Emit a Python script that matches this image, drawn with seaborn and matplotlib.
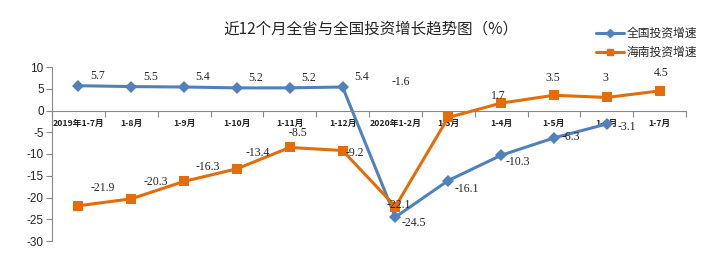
import matplotlib
matplotlib.use("Agg")
import matplotlib.pyplot as plt
import seaborn as sns
import numpy as np
import pandas as pd
from matplotlib.lines import Line2D

categories = ["2019年1-7月", "1-8月", "1-9月", "1-10月", "1-11月", "1-12月",
              "2020年1-2月", "1-3月", "1-4月", "1-5月", "1-6月", "1-7月"]
national = [5.7, 5.5, 5.4, 5.2, 5.2, 5.4, -24.5, -16.1, -10.3, -6.3, -3.1, None]
hainan = [-21.9, -20.3, -16.3, -13.4, -8.5, -9.2, -22.1, -1.6, 1.7, 3.5, 3, 4.5]
series_names = ["全国投资增速", "海南投资增速"]
title = "近12个月全省与全国投资增长趋势图（%）"
y_ticks = [10, 5, 0, -5, -10, -15, -20, -25, -30]

# label offsets in pixels (dx, dy) for manual-like Excel label placement
nat_off = [(19, 10)] * 6 + [(18, -6), (18, -8), (17, -7), (17, 1), (20, -3)]
hai_off = [(24, 18), (25, 17), (24, 14), (21, 16), (8, 14), (12, -2),
           (3, 2), (-47, 35), (-3, 7), (-1, 17), (-1, 19), (2, 18)]

sns.set_theme(style="white")
plt.rcParams['font.family'] = ['Noto Sans CJK SC', 'DejaVu Sans']

blue = "#4F81BD"
orange = "#E46C0A"

x = np.arange(len(categories))
df = pd.DataFrame({
    "x": np.concatenate([x, x]),
    "value": pd.array(national + hainan, dtype="Float64").astype(float),
    "series": [series_names[0]] * len(x) + [series_names[1]] * len(x),
})

fig = plt.figure(figsize=(7.26, 2.56), dpi=100)
ax = fig.add_axes([52 / 726, 1 - 241 / 256, 634 / 726, 174 / 256])

sns.lineplot(data=df, x="x", y="value", hue="series", style="series",
             palette=[blue, orange], markers=["D", "s"], dashes=False,
             linewidth=2.2, markersize=6, markeredgewidth=0, ax=ax, legend=False)
for line in ax.get_lines():
    if line.get_marker() == "s":
        line.set_markersize(7.5)
    elif line.get_marker() == "D":
        line.set_markersize(5.8)

ax.set_xlim(-0.5, len(categories) - 0.5)
ax.set_ylim(-30, 10)
ax.set_yticks(y_ticks)
ax.set_yticklabels([str(v) for v in y_ticks], family=['Liberation Sans'], fontsize=8.5)
ax.tick_params(axis="y", which="major", direction="out", length=4, width=0.8,
               color="#888888", pad=2, left=True)

ax.spines["top"].set_visible(False)
ax.spines["right"].set_visible(False)
ax.spines["left"].set_color("#888888")
ax.spines["bottom"].set_color("#888888")
ax.spines["bottom"].set_position(("data", 0))
ax.spines["left"].set_linewidth(0.8)
ax.spines["bottom"].set_linewidth(0.8)

ax.set_xticks(x)
ax.set_xticklabels(categories, fontsize=6.3, fontweight="bold", color="#222222")
ax.tick_params(axis="x", which="major", length=0, pad=6)
ax.set_xticks(np.arange(-0.5, len(categories), 1.0), minor=True)
ax.tick_params(axis="x", which="minor", direction="out", length=4, width=0.8,
               color="#888888", bottom=True)
ax.set_xlabel("")
ax.set_ylabel("")

for i, v in enumerate(national):
    if v is None:
        continue
    dx, dy = nat_off[i]
    ax.annotate(f"{v:g}", (i, v), xytext=(dx * 0.72, dy * 0.72), textcoords="offset points",
                ha="center", va="center", fontsize=8.5, family=["Liberation Serif"])
for i, v in enumerate(hainan):
    dx, dy = hai_off[i]
    ax.annotate(f"{v:g}", (i, v), xytext=(dx * 0.72, dy * 0.72), textcoords="offset points",
                ha="center", va="center", fontsize=8.5, family=["Liberation Serif"])

fig.text(371 / 726, 1 - 29 / 256, title, ha="center", va="center", fontsize=11.2)

handles = [Line2D([], [], color=blue, marker="D", markersize=4, linewidth=2.2),
           Line2D([], [], color=orange, marker="s", markersize=5, linewidth=2.2)]
fig.legend(handles, series_names, loc="upper left", bbox_to_anchor=(596 / 726, 1 - 27 / 256),
           frameon=False, fontsize=8.5, handlelength=2.4, handletextpad=0.2,
           labelspacing=0.5, borderaxespad=0, borderpad=0)

fig.savefig("out.png", dpi=100)
